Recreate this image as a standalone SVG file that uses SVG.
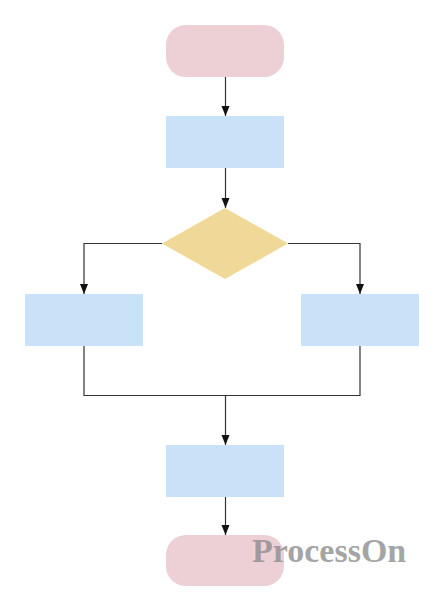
<svg xmlns="http://www.w3.org/2000/svg" width="444" height="611" viewBox="0 0 444 611">
<defs>
<style>
.term{fill:#ecd0d5}
.proc{fill:#c9e2f7}
.dec{fill:#f0d898}
.conn{fill:none;stroke:#333;stroke-width:1.2}
.wm{font-family:"Liberation Serif",serif;font-weight:bold;font-size:34px;fill:#8c8c8c;fill-opacity:0.8}
</style>
<marker id="arr" viewBox="0 0 10 10" refX="10" refY="5" markerWidth="10" markerHeight="10" markerUnits="userSpaceOnUse" orient="auto">
<path d="M0,1 L10,5 L0,9 Z" fill="#111"/>
</marker>
</defs>
<rect width="444" height="611" fill="#fff"/>
<g id="start"><rect class="term" x="166" y="25" width="118" height="52" rx="20" ry="20"/></g>
<g id="step1"><rect class="proc" x="166" y="116" width="118" height="52"/></g>
<g id="decision"><polygon class="dec" points="225,208 288,243.5 225,279 162,243.5"/></g>
<g id="left"><rect class="proc" x="25" y="294" width="118" height="52"/></g>
<g id="right"><rect class="proc" x="301" y="294" width="118" height="52"/></g>
<g id="step2"><rect class="proc" x="166" y="445" width="118" height="52"/></g>
<g id="end"><rect class="term" x="166" y="535" width="118" height="51" rx="20" ry="20"/></g>
<g id="connectors">
<path class="conn" d="M225.5,77 V116" marker-end="url(#arr)"/>
<path class="conn" d="M225.5,168 V208" marker-end="url(#arr)"/>
<path class="conn" d="M162,243.5 H84 V294" marker-end="url(#arr)"/>
<path class="conn" d="M288,243.5 H360 V294" marker-end="url(#arr)"/>
<path class="conn" d="M84,346 V395.5 H360 V346"/>
<path class="conn" d="M225.5,395.5 V445" marker-end="url(#arr)"/>
<path class="conn" d="M225.5,497 V535" marker-end="url(#arr)"/>
</g>
<text class="wm" x="252" y="562">ProcessOn</text>
</svg>
